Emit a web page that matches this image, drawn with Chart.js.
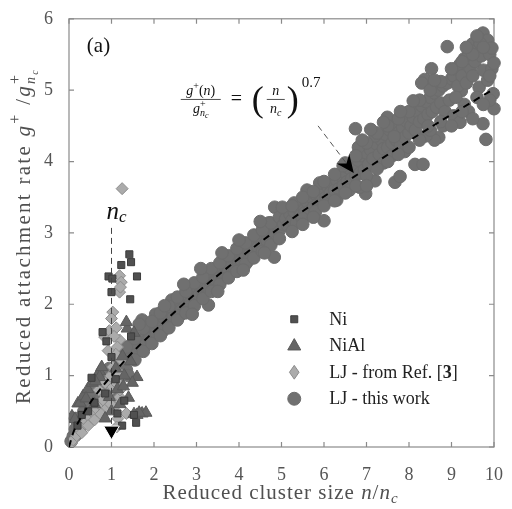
<!DOCTYPE html>
<html>
<head>
<meta charset="utf-8">
<script src="https://cdn.jsdelivr.net/npm/chart.js@4.4.1/dist/chart.umd.min.js"></script>
<style>
  html, body { margin: 0; padding: 0; background: #fff; }
</style>
</head>
<body>
<canvas id="chart" width="512" height="509"></canvas>
<script>
// values, [n/nc, g+/g+nc]
const ni = [
  [1.42, 2.7], [1.46, 2.59], [1.23, 2.55], [0.93, 2.39], [1.02, 2.36], [1.6, 2.39],
  [1.0, 2.17], [1.44, 2.07], [0.79, 1.61], [0.88, 1.48], [1.0, 1.26], [1.46, 1.55],
  [0.53, 0.97], [1.53, 0.45], [1.58, 0.34], [1.14, 0.47], [0.3, 0.45], [0.6, 0.62],
  [0.85, 0.75], [1.1, 0.95], [1.25, 0.3], [0.2, 0.3], [0.45, 0.5], [1.3, 0.65]
];
const nial = [
  [0.07, 0.43], [0.14, 0.39], [0.21, 0.61], [0.26, 0.62], [0.33, 0.71], [0.44, 0.81],
  [0.55, 0.9], [0.72, 1.06], [0.77, 1.12], [0.72, 0.98], [1.37, 1.66], [1.53, 1.6],
  [1.35, 1.75], [1.26, 1.27], [1.6, 0.98], [1.49, 0.9], [1.4, 0.69], [1.14, 0.81],
  [1.72, 0.47], [1.6, 0.45], [1.53, 0.46], [1.81, 0.48], [1.65, 0.48], [1.3, 1.0],
  [1.2, 0.6], [0.95, 0.7], [1.0, 0.5], [0.85, 0.4], [0.6, 0.6], [1.1, 1.1],
  [0.4, 0.68], [0.62, 0.92], [1.45, 1.2], [1.28, 0.85]
];
const ljRef = [
  [1.25, 3.62], [1.19, 2.4], [1.23, 2.31], [1.19, 2.17], [1.21, 2.24], [1.03, 1.89],
  [1.0, 1.8], [0.84, 1.54], [0.95, 1.63], [1.11, 1.67], [1.19, 1.5], [1.14, 1.4],
  [1.23, 1.22], [1.03, 1.12], [1.1, 1.3], [0.98, 1.0],
  [0.05, 0.05], [0.1, 0.1], [0.18, 0.16], [0.26, 0.24], [0.34, 0.3], [0.41, 0.36],
  [0.48, 0.42], [0.56, 0.48], [0.64, 0.54], [0.72, 0.6], [0.8, 0.66], [0.88, 0.72],
  [0.96, 0.78], [1.03, 0.84], [1.1, 0.9], [1.18, 0.96], [1.26, 1.0],
  [0.3, 0.2], [0.45, 0.3], [0.6, 0.38], [0.75, 0.46], [0.9, 0.55], [1.05, 0.62],
  [1.19, 0.7], [1.07, 0.56], [1.35, 0.47], [1.2, 0.8], [0.85, 0.9], [0.7, 0.8], [1.15, 0.4],
  [1.06, 1.55], [0.92, 1.35], [1.15, 1.05], [0.98, 0.6], [1.12, 0.28]
];
const ljWork = [
  [0.05, 0.08], [0.1, 0.15], [0.15, 0.25], [0.2, 0.3], [0.25, 0.38], [0.3, 0.42], [0.35, 0.5],
  [0.4, 0.52], [0.45, 0.6], [0.5, 0.6], [0.55, 0.68], [0.6, 0.72], [0.65, 0.74], [0.7, 0.8],
  [0.75, 0.84], [0.8, 0.88], [0.85, 0.9], [0.9, 0.95], [0.95, 0.98], [1.0, 1.02], [0.3, 0.38],
  [0.5, 0.66], [0.7, 0.74], [0.9, 0.9], [1.05, 1.06],
  [1.1, 1.08], [1.15, 1.14], [1.2, 1.12], [1.25, 1.2], [1.3, 1.24], [1.35, 1.22], [1.4, 1.3],
  [1.45, 1.32], [1.5, 1.36], [1.55, 1.38], [1.6, 1.42], [1.65, 1.4], [1.7, 1.48], [1.75, 1.5],
  [1.8, 1.54], [1.85, 1.5], [1.9, 1.6], [1.95, 1.62], [2.0, 1.66], [1.3, 1.32], [1.6, 1.34],
  [1.8, 1.44], [1.5, 1.46], [1.2, 1.18], [1.9, 1.52],
  [2.05, 1.6], [2.1, 1.72], [2.15, 1.68], [2.2, 1.76], [2.25, 1.8], [2.3, 1.7], [2.35, 1.84],
  [2.4, 1.9], [2.45, 1.82], [2.5, 1.94], [2.55, 1.88], [2.6, 2.0], [2.65, 1.92], [2.7, 2.04],
  [2.75, 2.0], [2.8, 2.1], [2.85, 2.02], [2.9, 2.14], [2.95, 2.1], [3.0, 2.2], [1.72, 1.78],
  [2.04, 1.86], [2.42, 2.06], [2.6, 1.84], [2.8, 1.96], [2.2, 1.62],
  [3.05, 2.12], [3.1, 2.24], [3.15, 2.18], [3.2, 2.3], [3.25, 2.22], [3.3, 2.34], [3.35, 2.28],
  [3.4, 2.4], [3.45, 2.32], [3.5, 2.44], [3.55, 2.38], [3.6, 2.5], [3.65, 2.42], [3.7, 2.52],
  [3.75, 2.46], [3.8, 2.58], [3.85, 2.5], [3.9, 2.62], [3.95, 2.56], [4.0, 2.68], [3.3, 2.2],
  [3.6, 2.36], [3.9, 2.48], [3.2, 2.42], [3.7, 2.6],
  [4.05, 2.62], [4.1, 2.72], [4.15, 2.66], [4.2, 2.78], [4.25, 2.7], [4.3, 2.82], [4.35, 2.74],
  [4.4, 2.86], [4.45, 2.8], [4.5, 2.92], [4.55, 2.84], [4.6, 2.96], [4.65, 2.9], [4.7, 3.02],
  [4.75, 2.94], [4.8, 3.08], [4.85, 3.0], [4.9, 3.12], [4.95, 3.04], [5.0, 3.16], [4.84, 3.36],
  [4.83, 2.66], [3.28, 1.99], [4.4, 2.96], [4.7, 3.14], [4.2, 2.6],
  [0.15, 0.4], [0.35, 0.62], [0.55, 0.8], [0.75, 0.97], [0.95, 1.1], [1.15, 1.26], [1.35, 1.4],
  [1.55, 1.52], [1.75, 1.66], [1.95, 1.76], [2.15, 1.88], [2.35, 1.97], [2.55, 2.1], [2.75, 2.18],
  [2.95, 2.3], [3.15, 2.38], [3.35, 2.5], [3.55, 2.58], [3.75, 2.68], [3.95, 2.78], [4.15, 2.86],
  [4.35, 2.97], [4.55, 3.04], [4.75, 3.14], [4.95, 3.22],
  [0.15, 0.16], [0.35, 0.36], [0.55, 0.54], [0.75, 0.68], [0.95, 0.82], [1.15, 0.96], [1.35, 1.08],
  [1.55, 1.22], [1.75, 1.34], [1.95, 1.45], [2.15, 1.56], [2.35, 1.67], [2.55, 1.78], [2.75, 1.88],
  [2.95, 1.98], [3.15, 2.08], [3.35, 2.18], [3.55, 2.28], [3.75, 2.37], [3.95, 2.46], [4.15, 2.56],
  [4.35, 2.65], [4.55, 2.74], [4.75, 2.83], [4.95, 2.92],
  [1.65, 1.72], [2.25, 1.98], [2.7, 2.28], [3.1, 2.5], [3.6, 2.72], [4.0, 2.9], [4.5, 3.16],
  [2.9, 1.86], [3.5, 2.18], [4.1, 2.48], [4.6, 2.72], [1.4, 1.0], [1.0, 0.78], [0.6, 0.5],
  [5.05, 3.12], [5.1, 3.2], [5.15, 3.1], [5.2, 3.26], [5.25, 3.18], [5.3, 3.3], [5.35, 3.14],
  [5.4, 3.34], [5.45, 3.24], [5.5, 3.4], [5.55, 3.28], [5.6, 3.44], [5.65, 3.3], [5.7, 3.5],
  [5.75, 3.36], [5.8, 3.54], [5.85, 3.4], [5.9, 3.58], [5.95, 3.46], [6.0, 3.62], [5.02, 3.36],
  [6.0, 3.17], [5.5, 3.2], [5.8, 3.3], [5.3, 3.42], [5.6, 3.6], [5.9, 3.7],
  [6.05, 3.5], [6.1, 3.64], [6.15, 3.56], [6.2, 3.7], [6.25, 3.6], [6.3, 3.74], [6.35, 3.62],
  [6.4, 3.8], [6.45, 3.66], [6.5, 3.84], [6.55, 3.72], [6.6, 3.9], [6.65, 3.76], [6.7, 3.96],
  [6.75, 3.8], [6.8, 4.02], [6.85, 3.84], [6.9, 4.08], [6.95, 3.88], [7.0, 4.12], [6.74, 4.46],
  [6.98, 3.55], [6.84, 3.64], [6.81, 4.2], [6.3, 3.46], [6.6, 3.6], [6.45, 3.94],
  [7.05, 3.96], [7.1, 4.16], [7.15, 4.04], [7.2, 3.73], [7.25, 4.24], [7.3, 4.1], [7.35, 4.3],
  [7.4, 4.18], [7.45, 4.38], [7.5, 4.2], [7.55, 4.44], [7.6, 4.26], [7.65, 4.5], [7.7, 4.3],
  [7.75, 4.4], [7.8, 4.24], [7.85, 4.48], [7.9, 4.34], [7.95, 4.56], [8.0, 4.4], [7.49, 4.62],
  [7.67, 3.71], [7.79, 3.79], [7.4, 3.98], [7.6, 4.08], [7.9, 4.14], [7.2, 4.36],
  [8.05, 4.5], [8.1, 4.62], [8.15, 4.44], [8.2, 4.7], [8.25, 4.56], [8.3, 4.78], [8.35, 4.6],
  [8.4, 4.84], [8.45, 4.66], [8.5, 4.9], [8.55, 4.7], [8.6, 4.96], [8.65, 4.76], [8.7, 5.0],
  [8.75, 4.82], [8.8, 5.06], [8.85, 4.7], [8.9, 5.1], [8.95, 4.86], [9.0, 5.16], [8.14, 3.96],
  [8.33, 3.96], [8.53, 5.3], [8.37, 5.15], [8.3, 5.1], [8.7, 4.34], [8.6, 4.3], [8.9, 5.61],
  [8.8, 4.5], [8.4, 4.36],
  [9.05, 4.64], [9.2, 4.55], [9.23, 4.99], [9.05, 5.2], [9.1, 5.3], [9.15, 5.06], [9.2, 5.36],
  [9.25, 5.2], [9.3, 5.44], [9.35, 5.1], [9.4, 5.5], [9.45, 5.3], [9.5, 5.65], [9.5, 5.2],
  [9.55, 5.4], [9.6, 5.56], [9.65, 5.04], [9.7, 5.48], [9.74, 5.8], [9.75, 5.28], [9.8, 5.6],
  [9.85, 5.14], [9.9, 5.5], [9.95, 5.3], [10.0, 5.38], [9.98, 4.95], [10.0, 4.74], [9.74, 4.53],
  [9.81, 4.31], [9.3, 4.8], [9.4, 4.7], [9.6, 4.9], [9.9, 4.86], [9.1, 4.9], [9.7, 5.7],
  [9.85, 5.7], [9.67, 5.66], [9.95, 5.59],
  [5.25, 3.38], [5.25, 3.02], [5.5, 3.5], [5.5, 3.12], [5.75, 3.58], [5.75, 3.22], [6.0, 3.72],
  [6.0, 3.38], [6.25, 3.82], [6.25, 3.45], [6.5, 3.98], [6.5, 3.56], [6.75, 4.08], [6.75, 3.66],
  [7.0, 4.26], [7.0, 3.8], [7.25, 4.4], [7.25, 3.9], [7.5, 4.5], [7.5, 4.0], [7.75, 4.6],
  [7.75, 4.1], [8.0, 4.7], [8.0, 4.2], [8.25, 4.86], [8.25, 4.3], [8.5, 5.0], [8.5, 4.44],
  [8.75, 5.12], [8.75, 4.56], [9.0, 5.3], [9.0, 4.5], [9.25, 5.4], [9.25, 4.7], [9.5, 5.5],
  [9.5, 4.6], [9.75, 5.6], [9.75, 4.8], [9.9, 5.2], [7.1, 4.45], [7.4, 4.55], [7.8, 4.7],
  [8.1, 4.85], [8.6, 5.14], [9.35, 5.6], [9.6, 5.76], [7.65, 4.35], [8.45, 4.5], [6.9, 4.3],
  [7.0, 3.66]
];
// dashed fit (n/nc)^0.7
const fitX = [0, 0.1, 0.25, 0.5, 0.75, 1, 1.5, 2, 2.5, 3, 4, 5, 6, 7, 8, 9, 9.95];
const fitY = [0, 0.2, 0.38, 0.62, 0.82, 1.0, 1.33, 1.62, 1.9, 2.16, 2.64, 3.09, 3.51, 3.9, 4.29, 4.66, 5.0];
const xTicks = [0, 1, 2, 3, 4, 5, 6, 7, 8, 9, 10];
const yTicks = [0, 1, 2, 3, 4, 5, 6];
const seriesNames = ['Ni', 'NiAl', 'LJ - from Ref. [3]', 'LJ - this work'];

const SERIF = '"Liberation Serif", "DejaVu Serif", serif';
const pts = arr => arr.map(p => ({ x: p[0], y: p[1] }));

function shape(ctx, style, x, y, r) {
  ctx.beginPath();
  if (style === 'rect') {
    ctx.rect(x - r, y - r, 2 * r, 2 * r);
  } else if (style === 'triangle') {
    ctx.moveTo(x, y - r * 1.1);
    ctx.lineTo(x + r, y + r * 0.65);
    ctx.lineTo(x - r, y + r * 0.65);
    ctx.closePath();
  } else if (style === 'rectRot') {
    ctx.moveTo(x, y - r * 1.15);
    ctx.lineTo(x + r * 0.8, y);
    ctx.lineTo(x, y + r * 1.15);
    ctx.lineTo(x - r * 0.8, y);
    ctx.closePath();
  } else {
    ctx.arc(x, y, r, 0, Math.PI * 2);
  }
  ctx.fill();
  ctx.stroke();
}

// mixed-font text: parts = [text, font, dy, noAdvance]; optional target width stretches the spacing
function runs(ctx, parts, x, y, align, target) {
  ctx.letterSpacing = '0px';
  let w = 0, n = 0;
  parts.forEach(p => {
    ctx.font = p[1];
    if (!p[3]) { w += ctx.measureText(p[0]).width; n += p[0].length; }
  });
  if (target) {
    ctx.letterSpacing = ((target - w) / n).toFixed(2) + 'px';
    w = target;
  }
  let cx = align === 'center' ? x - w / 2 : x;
  parts.forEach(p => {
    ctx.font = p[1];
    ctx.fillText(p[0], cx, y + (p[2] || 0));
    if (!p[3]) cx += ctx.measureText(p[0]).width;
  });
  ctx.letterSpacing = '0px';
}

const decor = {
  id: 'decor',
  beforeDatasetsDraw(chart) {
    const { ctx, chartArea: a, scales: { x, y } } = chart;
    ctx.save();
    ctx.strokeStyle = '#8a8a8a';
    ctx.lineWidth = 1.2;
    ctx.strokeRect(a.left, a.top, a.right - a.left, a.bottom - a.top);
    ctx.beginPath();
    xTicks.forEach(v => {
      const px = x.getPixelForValue(v);
      ctx.moveTo(px, a.bottom); ctx.lineTo(px, a.bottom - 5);
      ctx.moveTo(px, a.top); ctx.lineTo(px, a.top + 5);
    });
    yTicks.forEach(v => {
      const py = y.getPixelForValue(v);
      ctx.moveTo(a.left, py); ctx.lineTo(a.left + 5, py);
      ctx.moveTo(a.right, py); ctx.lineTo(a.right - 5, py);
    });
    ctx.stroke();
    ctx.restore();
  },
  afterDatasetsDraw(chart) {
    const { ctx, chartArea: a, scales: { x, y } } = chart;
    ctx.save();

    // nc marker line
    const ncx = x.getPixelForValue(1);
    ctx.strokeStyle = '#444';
    ctx.lineWidth = 1;
    ctx.setLineDash([6, 4]);
    ctx.beginPath();
    ctx.moveTo(ncx, y.getPixelForValue(3.07));
    ctx.lineTo(ncx, y.getPixelForValue(0.3));
    ctx.stroke();
    ctx.setLineDash([]);
    ctx.fillStyle = '#111';
    ctx.textBaseline = 'alphabetic';
    runs(ctx, [['n', 'italic 25px ' + SERIF], ['c', 'italic 17px ' + SERIF, 3]], ncx + 5, y.getPixelForValue(3.2), 'center');

    // (a)
    ctx.font = '21px ' + SERIF;
    ctx.fillText('(a)', x.getPixelForValue(0.42), y.getPixelForValue(5.53));

    // equation
    const bx = x.getPixelForValue(2.63), by = y.getPixelForValue(4.87);
    ctx.strokeStyle = '#222';
    ctx.lineWidth = 0.8;
    ctx.beginPath();
    ctx.moveTo(bx, by); ctx.lineTo(bx + 40, by);
    ctx.moveTo(bx + 86, by); ctx.lineTo(bx + 104, by);
    ctx.stroke();
    const it = 'italic 14px ' + SERIF, sm = '10px ' + SERIF, up = '14px ' + SERIF;
    runs(ctx, [['g', it], ['+', sm, -6], ['(', up], ['n', it], [')', up]], bx + 20, by - 4, 'center');
    runs(ctx, [['g', it], ['+', sm, -6, true], ['n', 'italic 10px ' + SERIF, 3], ['c', 'italic 8px ' + SERIF, 5]], bx + 20, by + 14, 'center');
    ctx.font = '20px ' + SERIF;
    ctx.fillText('=', bx + 50, by + 6);
    ctx.font = '36px ' + SERIF;
    ctx.fillText('(', bx + 71, by + 12);
    ctx.fillText(')', bx + 106, by + 12);
    runs(ctx, [['n', it]], bx + 95, by - 4, 'center');
    runs(ctx, [['n', it], ['c', 'italic 10px ' + SERIF, 3]], bx + 95, by + 14, 'center');
    ctx.font = '15px ' + SERIF;
    ctx.fillText('0.7', bx + 121, by - 12);

    // arrow to the curve
    const tx = x.getPixelForValue(6.7), ty = y.getPixelForValue(3.84);
    const sx = x.getPixelForValue(5.86), sy = y.getPixelForValue(4.5);
    const dx = tx - sx, dy = ty - sy, len = Math.hypot(dx, dy);
    const ux = dx / len, uy = dy / len;
    ctx.strokeStyle = '#555';
    ctx.lineWidth = 1;
    ctx.setLineDash([6, 4]);
    ctx.beginPath();
    ctx.moveTo(sx, sy);
    ctx.lineTo(tx - ux * 12, ty - uy * 12);
    ctx.stroke();
    ctx.setLineDash([]);
    ctx.fillStyle = '#000';
    ctx.beginPath();
    ctx.moveTo(tx, ty);
    ctx.lineTo(tx - ux * 18 + uy * 8, ty - uy * 18 - ux * 8);
    ctx.lineTo(tx - ux * 12, ty - uy * 12);
    ctx.lineTo(tx - ux * 18 - uy * 8, ty - uy * 18 + ux * 8);
    ctx.closePath();
    ctx.fill();

    // legend
    const styles = chart.data.datasets.slice(0, 4);
    const lx = x.getPixelForValue(5.3), ly0 = y.getPixelForValue(1.79);
    seriesNames.forEach((name, i) => {
      const ds = styles[i];
      const ly = ly0 + i * 26.5;
      ctx.fillStyle = ds.backgroundColor;
      ctx.strokeStyle = ds.borderColor;
      ctx.lineWidth = 1;
      shape(ctx, ds.pointStyle, lx, ly, ds.legendSize);
      ctx.fillStyle = '#222';
      ctx.font = '18px ' + SERIF;
      ctx.textBaseline = 'middle';
      if (i === 2) {
        runs(ctx, [['LJ - from Ref. [', '18px ' + SERIF], ['3', 'bold 18px ' + SERIF], [']', '18px ' + SERIF]], lx + 35, ly + 1);
      } else {
        ctx.fillText(name, lx + 35, ly + 1);
      }
    });
    ctx.textBaseline = 'alphabetic';

    // axis titles
    ctx.fillStyle = '#505050';
    const big = '21px ' + SERIF, bi = 'italic 21px ' + SERIF;
    runs(ctx, [['Reduced cluster size ', big], ['n', bi], ['/', big], ['n', bi], ['c', 'italic 15px ' + SERIF, 4]],
      (a.left + a.right) / 2 - 1, 499, 'center', 236);
    ctx.translate(30, 236);
    ctx.rotate(-Math.PI / 2);
    runs(ctx, [['Reduced attachment rate ', big], ['g', bi], ['+', '16px ' + SERIF, -10], [' /', big],
      ['g', bi], ['+', '16px ' + SERIF, -10, true], ['n', 'italic 14px ' + SERIF, 5], ['c', 'italic 10px ' + SERIF, 8]],
      0, 0, 'center', 336);
    ctx.restore();
  }
};

function draw() {
  new Chart(document.getElementById('chart'), {
    type: 'scatter',
    data: {
      datasets: [
        { label: seriesNames[0], data: pts(ni), pointStyle: 'rect', pointRadius: 5, legendSize: 3.5,
          backgroundColor: '#505050', borderColor: '#3c3c3c', borderWidth: 1, order: 2 },
        { label: seriesNames[1], data: pts(nial), pointStyle: 'triangle', pointRadius: 7, legendSize: 6.5,
          backgroundColor: '#656565', borderColor: '#5a5a5a', borderWidth: 1, order: 3 },
        { label: seriesNames[2], data: pts(ljRef), pointStyle: 'rectRot', pointRadius: 6, legendSize: 6,
          backgroundColor: '#ababab', borderColor: '#8c8c8c', borderWidth: 1, order: 4 },
        { label: seriesNames[3], data: pts(ljWork), pointStyle: 'circle', pointRadius: 6.3, legendSize: 6.5,
          backgroundColor: '#707070', borderColor: '#6c6c6c', borderWidth: 1, order: 5, clip: false },
        { type: 'line', data: fitX.map((v, i) => ({ x: v, y: fitY[i] })), borderColor: '#000',
          borderWidth: 2, borderDash: [7, 5], pointRadius: 0, cubicInterpolationMode: 'monotone', order: 1 },
        { data: [{ x: 1, y: 0.23 }], pointStyle: 'triangle', rotation: 180, pointRadius: 9,
          backgroundColor: '#000', borderColor: '#fff', borderWidth: 1, order: 0 }
      ]
    },
    options: {
      responsive: false,
      animation: false,
      layout: { padding: { left: 0, right: 12, top: 18, bottom: 0 } },
      plugins: { legend: { display: false }, tooltip: { enabled: false } },
      scales: {
        x: {
          type: 'linear', min: 0, max: 10,
          grid: { display: false }, border: { display: false },
          ticks: { stepSize: 1, padding: 9, color: '#555', font: { family: SERIF, size: 18 } },
          afterFit: s => { s.height = 62; }
        },
        y: {
          min: 0, max: 6,
          grid: { display: false }, border: { display: false },
          ticks: { stepSize: 1, padding: 8, color: '#555', font: { family: SERIF, size: 18 } },
          afterFit: s => { s.width = 69; }
        }
      }
    },
    plugins: [decor]
  });
}

const wanted = ['18px "Liberation Serif"', 'italic 18px "Liberation Serif"', 'bold 18px "Liberation Serif"'];
Promise.all(wanted.map(f => document.fonts.load(f))).then(draw, draw);
</script>
</body>
</html>
